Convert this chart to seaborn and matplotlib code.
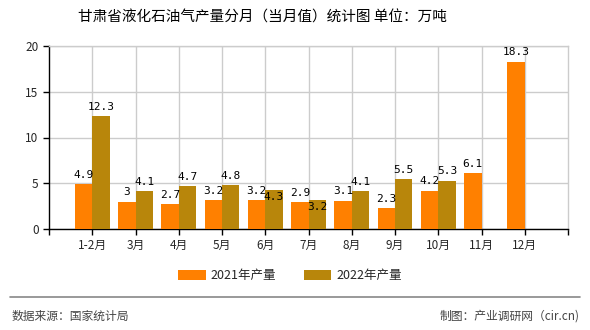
import matplotlib
matplotlib.use("Agg")
import matplotlib.pyplot as plt
import seaborn as sns
import pandas as pd
import numpy as np

months = ["1-2月", "3月", "4月", "5月", "6月", "7月", "8月", "9月", "10月", "11月", "12月"]
v2021 = [4.9, 3, 2.7, 3.2, 3.2, 2.9, 3.1, 2.3, 4.2, 6.1, 18.3]
v2022 = [12.3, 4.1, 4.7, 4.8, 4.3, 3.2, 4.1, 5.5, 5.3, None, None]
series = ["2021年产量", "2022年产量"]
colors = ["#FF8000", "#B8860B"]
# labels of 2022 drawn inside the bar top (as in the reference)
inside_2022 = {"6月", "7月"}

rows = []
for m, a, b in zip(months, v2021, v2022):
    rows.append((m, series[0], a))
    rows.append((m, series[1], b))
df = pd.DataFrame(rows, columns=["月份", "系列", "产量"]).dropna()

sns.set_theme(style="white")
plt.rcParams['font.family'] = ['Noto Sans CJK SC', 'DejaVu Sans']

fig = plt.figure(figsize=(5.9, 3.3), dpi=100)
ax = fig.add_axes([49/590, 1-229/330, (568-49)/590, (229-46)/330])

sns.barplot(data=df, x="月份", y="产量", hue="系列", order=months, hue_order=series,
            palette=colors, width=0.8, saturation=1, ax=ax, legend=True, zorder=3,
            edgecolor="none", linewidth=0)

lab_font = dict(fontsize=8, family=['DejaVu Sans Mono'], color="black")
for si, cont in enumerate(ax.containers):
    vals = v2021 if si == 0 else v2022
    present = [(m, v) for m, v in zip(months, vals) if v is not None]
    for bar, (m, v) in zip(cont, present):
        x = bar.get_x() + bar.get_width() / 2
        h = bar.get_height()
        txt = f"{v:g}"
        if si == 1 and m in inside_2022:
            ax.annotate(txt, (x, h), xytext=(0, -2), textcoords="offset points",
                        ha="center", va="top", **lab_font)
        else:
            ax.annotate(txt, (x, h), xytext=(0, 3), textcoords="offset points",
                        ha="center", va="bottom", **lab_font)

ax.set_xlim(-1, 11)
ax.set_ylim(0, 20)
ax.set_yticks([0, 5, 10, 15, 20])
ax.set_xticks(range(len(months)))
ax.set_xticks([-1, 11], minor=True)
ax.set_xticklabels(months, fontsize=8.5)
ax.tick_params(axis='y', labelsize=8.5, length=4, width=1, color='black', direction='out', left=True)
ax.tick_params(axis='x', which='both', length=4, width=1, color='black', direction='out', bottom=True)
ax.set_xlabel("")
ax.set_ylabel("")
ax.grid(True, color="#cccccc", linewidth=1, zorder=0)
ax.set_axisbelow(True)
for s in ["left", "bottom"]:
    ax.spines[s].set_color("black")
    ax.spines[s].set_linewidth(1)
for s in ["top", "right"]:
    ax.spines[s].set_color("#cccccc")
    ax.spines[s].set_linewidth(1)

leg = ax.get_legend()
handles, labels = ax.get_legend_handles_labels()
leg.remove()
fig.legend(handles, labels, loc="center", bbox_to_anchor=(290/590, 1-276/330), ncol=2,
           frameon=False, fontsize=9, handlelength=2.2, handleheight=0.9,
           columnspacing=2.2, handletextpad=0.4)

fig.text(262/590, 1-18/330, "甘肃省液化石油气产量分月（当月值）统计图 单位：万吨",
         ha="center", va="center", fontsize=10.5, color="black")

fig.add_artist(plt.Line2D([10/590, 580/590], [1-297/330, 1-297/330],
                          transform=fig.transFigure, color="#888888", linewidth=1.2))
fig.text(12/590, 1-316/330, "数据来源：国家统计局", ha="left", va="center",
         fontsize=8.5, color="#444444")
fig.text(580/590, 1-316/330, "制图：产业调研网（cir.cn)", ha="right", va="center",
         fontsize=8.5, color="#444444")

fig.savefig("out.png", dpi=100)
